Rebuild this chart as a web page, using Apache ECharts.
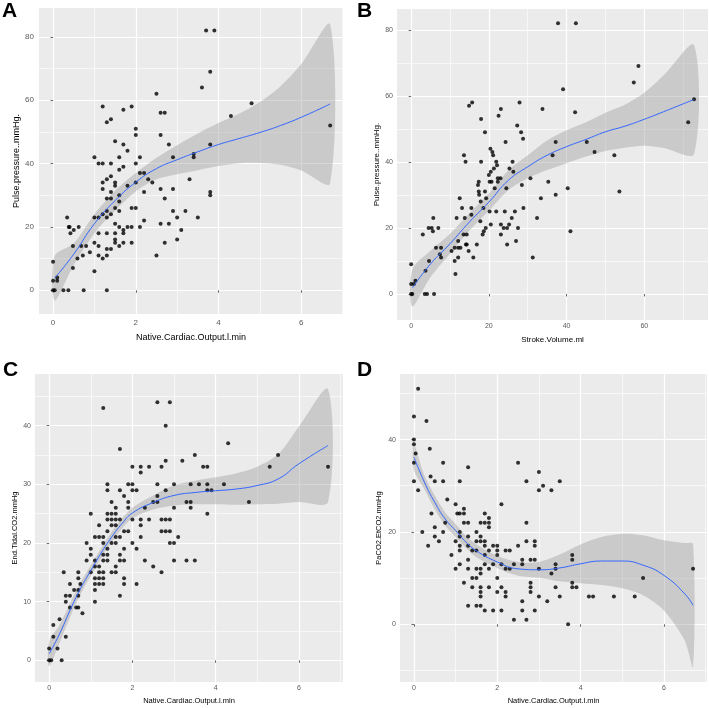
<!DOCTYPE html>
<html>
<head>
<meta charset="utf-8">
<script src="https://cdn.jsdelivr.net/npm/echarts@6/dist/echarts.min.js"></script>
<style>
  html, body { margin: 0; padding: 0; background: #fff; }
  #chart { width: 709px; height: 708px; }
</style>
</head>
<body>
<div id="chart"></div>
<script>
// ---- data ----
// A: pulse pressure vs native cardiac output
const ptsA = [[0,9],[0,3],[0,0],[0.04,0],[0.1,4],[0.1,3],[0.25,0],[0.37,0],[0.34,23],[0.38,20],[0.4,20],[0.42,18],[0.5,19],[0.62,20],[0.48,14],[0.48,7],[0.59,10],[0.68,14],[0.72,11],[0.74,0],[0.8,14],[0.89,12],[1,6],[1,23],[1,15],[1,42],[1.1,23],[1.1,18],[1.1,14],[1.1,11],[1.1,40],[1.2,40],[1.2,58],[1.2,34],[1.2,32],[1.2,24],[1.2,10],[1.3,35],[1.3,29],[1.3,25],[1.3,23],[1.3,18],[1.3,13],[1.3,11],[1.3,0],[1.3,53],[1.4,54],[1.4,40],[1.4,36],[1.4,31],[1.4,29],[1.4,24],[1.4,13],[1.5,47],[1.5,34],[1.5,33],[1.5,26],[1.5,21],[1.5,18],[1.5,16],[1.5,15],[1.6,30],[1.6,28],[1.6,25],[1.6,38],[1.6,42],[1.6,20],[1.6,14],[1.7,57],[1.7,46],[1.7,39],[1.7,19],[1.7,18],[1.7,15],[1.8,44],[1.8,33],[1.8,20],[1.9,58],[1.9,26],[1.9,20],[1.9,15],[2,51],[2,49],[2,40],[2,34],[2,26],[2.1,42],[2.1,37],[2.1,20],[2.2,37],[2.2,31],[2.2,22],[2.3,35],[2.4,34],[2.5,62],[2.5,11],[2.6,56],[2.6,49],[2.6,32],[2.6,21],[2.7,56],[2.7,29],[2.7,15],[2.8,46],[2.8,21],[2.9,42],[2.9,32],[2.9,25],[3,23],[3,16],[3.1,19],[3.2,25],[3.3,35],[3.4,43],[3.4,42],[3.5,23],[3.6,64],[3.7,82],[3.8,69],[3.8,46],[3.8,31],[3.8,30],[3.9,82],[4.3,55],[4.8,59],[6.7,52]];
const fitXA = [0.04,0.5,1,1.5,2,2.5,3,3.5,4,4.5,5,5.5,6,6.7];
const fitA  = [3.8,11.4,21,28.3,34.1,38.4,41.2,43.7,46,47.9,49.8,52,54.6,58.8];
const loA   = [-3.2,8,18,25.2,31.2,35,36.6,37.9,39.2,40.1,40.2,39.6,37.8,33.8];
const hiA   = [10.8,14.8,24,31.4,37,41.8,45.8,49.5,52.8,55.7,59.4,64.4,71.4,83.8];

// B: pulse pressure vs stroke volume
const ptsB = [[0,9],[0,3],[0,0],[0.3,0],[0.7,3],[1.1,4],[3,18],[3.7,7],[3.5,0],[4.1,0],[4.5,20],[4.6,10],[5.3,20],[5.6,19],[5.7,23],[5.9,0],[6.4,14],[7,20],[7.4,12],[7.7,14],[7.7,11],[10.4,13],[11.2,10],[11.2,14],[11.4,6],[11.7,23],[12.1,11],[12.1,16],[12.1,14],[12.7,14],[12.5,29],[13.1,26],[13.5,18],[13.6,42],[13.8,23],[14,40],[14.1,15],[14.3,18],[14.3,15],[14.8,13],[14.9,57],[15.7,58],[15.5,26],[15.5,24],[16,11],[16.9,15],[17.2,33],[17.4,34],[17.4,31],[17.5,30],[17.8,22],[17.9,28],[18,40],[18,53],[18.4,18],[18.6,26],[18.7,19],[19,49],[19,31],[19.2,20],[19.3,29],[20,36],[20.2,34],[20.2,25],[20.4,44],[20.5,37],[20.5,21],[20.7,34],[20.9,43],[21.1,42],[21.3,38],[21.5,32],[21.9,40],[21.9,25],[22.1,39],[22.3,35],[22.3,34],[22.5,54],[23,35],[23.1,56],[23.1,18],[23.1,21],[23.8,20],[24.1,25],[24.3,46],[24.5,32],[24.7,20],[24.7,15],[25.2,21],[25.3,38],[25.9,23],[26.1,40],[26.3,37],[26.7,25],[27,16],[27.3,51],[27.5,20],[27.9,58],[28.3,49],[28.5,33],[28.8,47],[28.9,26],[30.7,35],[31.3,11],[32.4,23],[33.4,29],[33.8,56],[35.3,34],[36.4,42],[37.2,46],[37.2,30],[37.8,82],[39.1,62],[40.3,32],[41,19],[42.2,55],[42.4,82],[45.2,46],[47.2,43],[52.3,42],[53.6,31],[57.3,64],[58.5,69],[71.3,52],[72.8,59]];
const fitXB = [0.3,5,10,15,20,25,30,35,40,45,50,55,60,65,72.8];
const fitB  = [1.8,9.1,15.2,21.8,27.8,34.4,38.5,42,44.6,46.8,49.1,50.8,52.9,55.2,58.9];
const loB   = [-3.8,5.1,12.2,19.2,25.2,31.4,35,37.5,39.6,41.6,43.3,44.3,44.9,44.2,42.4];
const hiB   = [7.4,13.1,18.2,24.4,30.4,37.4,42,46.5,49.6,52,54.9,57.3,60.9,66.2,75.4];

// C: end tidal CO2 vs native cardiac output
const ptsC = [[0,2],[0,0],[0.05,0],[0.1,6],[0.1,4],[0.2,2],[0.25,7],[0.3,0],[0.35,15],[0.4,10],[0.4,11],[0.4,4],[0.5,13],[0.5,11],[0.5,9],[0.6,12],[0.65,9],[0.7,15],[0.7,14],[0.7,12],[0.7,11],[0.7,9],[0.75,13],[0.8,8],[0.9,20],[0.9,17],[1,25],[1,19],[1,18],[1,15],[1.1,21],[1.1,17],[1.1,16],[1.1,14],[1.1,13],[1.1,12],[1.1,10],[1.2,23],[1.2,21],[1.2,16],[1.2,15],[1.2,14],[1.2,13],[1.3,43],[1.3,21],[1.3,20],[1.3,18],[1.3,17],[1.3,15],[1.3,14],[1.3,13],[1.4,30],[1.4,29],[1.4,25],[1.4,24],[1.4,22],[1.4,19],[1.4,18],[1.4,17],[1.5,27],[1.5,25],[1.5,24],[1.5,23],[1.5,20],[1.5,15],[1.6,26],[1.6,25],[1.6,24],[1.6,23],[1.6,21],[1.6,20],[1.6,16],[1.6,15],[1.7,36],[1.7,29],[1.7,24],[1.7,21],[1.7,18],[1.7,17],[1.7,11],[1.8,28],[1.8,22],[1.8,19],[1.8,17],[1.8,14],[1.8,13],[1.9,30],[1.9,27],[1.9,26],[1.9,22],[2,33],[2,30],[2,29],[2,24],[2,20],[2.1,29],[2.1,19],[2.1,13],[2.2,33],[2.2,32],[2.2,24],[2.2,23],[2.2,21],[2.3,26],[2.3,17],[2.4,33],[2.4,24],[2.5,27],[2.5,16],[2.6,44],[2.6,30],[2.6,28],[2.6,27],[2.7,33],[2.7,24],[2.7,22],[2.7,15],[2.8,40],[2.8,34],[2.8,29],[2.8,24],[2.8,22],[2.9,44],[2.9,24],[2.9,22],[2.9,20],[3,30],[3,26],[3,20],[3,17],[3.1,21],[3.2,34],[3.3,27],[3.3,17],[3.4,30],[3.4,27],[3.4,26],[3.5,35],[3.5,17],[3.6,30],[3.7,33],[3.8,33],[3.8,30],[3.8,29],[3.8,25],[3.9,29],[4.2,30],[4.3,37],[4.8,27],[5.3,33],[5.5,35],[6.7,33]];
const fitXC = [0,0.25,0.5,0.75,1,1.25,1.5,1.75,2,2.5,3,3.5,4,4.5,5,5.5,6,6.7];
const fitC  = [1.1,4.5,8.5,12.2,15.3,18.3,21,23.3,25.1,26.9,28.1,28.6,28.9,29.2,29.8,30.9,33.5,36.6];
const loC   = [-1.0,3.0,7.3,11.2,14.4,17.45,20.15,22.45,24.2,25.7,26.4,26.6,26.6,26.5,26.6,26.7,27.0,27.0];
const hiC   = [3.2,6.0,9.7,13.2,16.2,19.15,21.85,24.15,26.0,28.1,29.8,30.6,31.2,31.9,33.0,35.1,39.8,46.2];

// D: PaCO2-EtCO2 gap vs native cardiac output
const ptsD = [[0,45],[0,40],[0,39],[0,35],[0,31],[0.04,37],[0.1,51],[0.1,29],[0.2,20],[0.3,44],[0.34,17],[0.38,38],[0.4,32],[0.42,24],[0.5,21],[0.5,19],[0.5,31],[0.6,18],[0.7,35],[0.7,31],[0.7,20],[0.75,22],[0.8,27],[0.9,15],[1,26],[1,18],[1,12],[1.04,24],[1.1,31],[1.1,24],[1.1,20],[1.1,19],[1.1,17],[1.1,16],[1.1,13],[1.2,25],[1.2,24],[1.2,22],[1.2,9],[1.3,34],[1.3,22],[1.3,19],[1.3,17],[1.3,14],[1.3,12],[1.3,4],[1.4,16],[1.4,10],[1.4,8],[1.5,20],[1.5,18],[1.5,16],[1.5,12],[1.5,10],[1.5,4],[1.6,22],[1.6,19],[1.6,18],[1.6,12],[1.6,11],[1.6,8],[1.6,7],[1.6,6],[1.6,4],[1.7,24],[1.7,22],[1.7,18],[1.7,17],[1.7,15],[1.7,13],[1.7,3],[1.8,23],[1.8,22],[1.8,21],[1.8,16],[1.8,12],[1.8,8],[1.9,17],[1.9,13],[1.9,3],[2,17],[2,16],[2,15],[2,10],[2,7],[2.1,26],[2.1,13],[2.1,8],[2.1,3],[2.2,16],[2.2,12],[2.2,7],[2.2,6],[2.3,16],[2.3,12],[2.4,13],[2.4,1],[2.5,17],[2.5,35],[2.6,14],[2.6,13],[2.6,5],[2.6,3],[2.7,31],[2.7,22],[2.7,18],[2.7,1],[2.8,14],[2.8,9],[2.8,8],[2.8,7],[2.9,18],[2.9,17],[2.9,14],[2.9,3],[3,33],[3,29],[3,12],[3,6],[3.1,30],[3.2,5],[3.3,29],[3.3,11],[3.4,13],[3.4,12],[3.4,8],[3.5,31],[3.5,6],[3.7,0],[3.8,15],[3.8,14],[3.8,9],[3.8,8],[3.9,8],[4.2,6],[4.3,6],[4.8,6],[5.3,6],[5.5,10],[6.7,12]];
const fitXD = [0,0.25,0.5,0.75,1,1.25,1.5,2,2.5,3,3.5,4,4.5,5,5.5,6,6.5,6.7];
const fitD  = [36.2,30.8,26.4,22.8,20.3,17.8,15.9,13.5,12,11.8,12.2,13.1,13.7,13.7,12.8,10.6,6.6,4.1];
const loD   = [33.4,29.3,24.9,21.4,18.9,16.5,14.5,12.2,10.5,10.1,9.3,8.9,8.5,7.8,6.3,3.0,-3.5,-9.2];
const hiD   = [39.0,32.3,27.9,24.2,21.7,19.1,17.3,14.8,13.5,13.5,15.1,17.3,18.9,19.6,19.3,18.2,17.6,17.4];

// tick positions (major = labelled, minor = thin grid only)
const coTicks = [0, 2, 4, 6];
const coMinor = [1, 3, 5, 7];
const svTicks = [0, 20, 40, 60];
const svMinor = [10, 30, 50, 70];
const ppTicks = [0, 20, 40, 60, 80];
const ppMinor = [10, 30, 50, 70];
const etTicks = [0, 10, 20, 30, 40];
const etMinor = [5, 15, 25, 35, 45];
const gapTicks = [0, 20, 40];
const gapMinor = [-10, 10, 30, 50];

const FONT = 'Liberation Sans, Arial, Helvetica, sans-serif';

const panels = [
  { letter: 'A', pts: ptsA, fitX: fitXA, fit: fitA, lo: loA, hi: hiA,
    xName: 'Native.Cardiac.Output.l.min', yName: 'Pulse.pressure..mmHg.',
    xMajor: coTicks, xMinor: coMinor, yMajor: ppTicks, yMinor: ppMinor,
    xMin: -0.34, xMax: 7.01, yMin: -7.5, yMax: 89.1,
    grid: { left: 39, top: 8, width: 304, height: 306 },
    letterPos: { left: 2, top: 1 }, labelSize: 8, nameSize: 9, xGap: 19, yGap: 18, xMargin: 5, yMargin: 5 },
  { letter: 'B', pts: ptsB, fitX: fitXB, fit: fitB, lo: loB, hi: hiB,
    xName: 'Stroke.Volume.ml', yName: 'Pulse.pressure..mmHg.',
    xMajor: svTicks, xMinor: svMinor, yMajor: ppTicks, yMinor: ppMinor,
    xMin: -3.64, xMax: 76.4, yMin: -7.9, yMax: 86.3,
    grid: { left: 397, top: 9, width: 311, height: 311 },
    letterPos: { left: 357, top: 1 }, labelSize: 7, nameSize: 8, xGap: 16, yGap: 16, xMargin: 3, yMargin: 4 },
  { letter: 'C', pts: ptsC, fitX: fitXC, fit: fitC, lo: loC, hi: hiC,
    xName: 'Native.Cardiac.Output.l.min', yName: 'End.Tidal.CO2.mmHg',
    xMajor: coTicks, xMinor: coMinor, yMajor: etTicks, yMinor: etMinor,
    xMin: -0.34, xMax: 7.06, yMin: -3.7, yMax: 48.8,
    grid: { left: 35, top: 374, width: 308, height: 308 },
    letterPos: { left: 3, top: 360 }, labelSize: 7, nameSize: 7.5, xGap: 15, yGap: 15, xMargin: 3, yMargin: 4 },
  { letter: 'D', pts: ptsD, fitX: fitXD, fit: fitD, lo: loD, hi: hiD,
    xName: 'Native.Cardiac.Output.l.min', yName: 'PaCO2.EtCO2.mmHg',
    xMajor: coTicks, xMinor: coMinor, yMajor: gapTicks, yMinor: gapMinor,
    xMin: -0.335, xMax: 7.035, yMin: -12.5, yMax: 54.2,
    grid: { left: 400, top: 374, width: 307, height: 308 },
    letterPos: { left: 357, top: 360 }, labelSize: 7, nameSize: 7.5, xGap: 15, yGap: 17, xMargin: 3, yMargin: 4 }
];

const option = {
  backgroundColor: '#ffffff',
  animation: false,
  title: [], grid: [], xAxis: [], yAxis: [], series: []
};

function majorAxis(p, i, dir) {
  const isX = dir === 'x';
  const ticks = isX ? p.xMajor : p.yMajor;
  return {
    type: 'value', gridIndex: i, position: isX ? 'bottom' : 'left',
    min: isX ? p.xMin : p.yMin, max: isX ? p.xMax : p.yMax,
    name: isX ? p.xName : p.yName,
    nameLocation: 'middle', nameGap: isX ? p.xGap : p.yGap,
    nameTextStyle: { fontFamily: FONT, fontSize: p.nameSize, color: '#000' },
    axisLine: { show: false },
    axisTick: { show: true, length: 2.5, lineStyle: { color: '#444', width: 0.8 }, customValues: ticks },
    axisLabel: { customValues: ticks, fontFamily: FONT, fontSize: p.labelSize, color: '#5a5a5a',
                 margin: isX ? p.xMargin : p.yMargin },
    splitLine: { show: true, lineStyle: { color: '#ffffff', width: 1.2 } }
  };
}

function minorAxis(p, i, dir) {
  const isX = dir === 'x';
  return {
    type: 'value', gridIndex: i, position: isX ? 'top' : 'right',
    min: isX ? p.xMin : p.yMin, max: isX ? p.xMax : p.yMax,
    axisLine: { show: false },
    axisTick: { show: false, customValues: isX ? p.xMinor : p.yMinor },
    axisLabel: { show: false },
    splitLine: { show: true, lineStyle: { color: '#ffffff', width: 0.6 } }
  };
}

panels.forEach(function (p, i) {
  option.title.push({
    text: p.letter, left: p.letterPos.left, top: p.letterPos.top, padding: 0,
    textStyle: { fontFamily: FONT, fontSize: 21, fontWeight: 'bold', color: '#000' }
  });
  option.grid.push(Object.assign({ show: true, backgroundColor: '#EBEBEB', borderWidth: 0 }, p.grid));
  option.xAxis.push(minorAxis(p, i, 'x'), majorAxis(p, i, 'x'));
  option.yAxis.push(minorAxis(p, i, 'y'), majorAxis(p, i, 'y'));
  const xi = 2 * i + 1, yi = 2 * i + 1;

  option.series.push({
    type: 'scatter', xAxisIndex: xi, yAxisIndex: yi,
    data: p.pts, symbolSize: 4, itemStyle: { color: '#000' }, silent: true
  });
  // confidence ribbon: one polygon through upper edge then lower edge, placed by the axes
  const n = p.fitX.length;
  option.series.push({
    type: 'custom', xAxisIndex: xi, yAxisIndex: yi, silent: true, clip: true,
    data: p.fitX.map(function (x, k) { return [x, p.lo[k], p.hi[k]]; }),
    encode: { x: 0, y: [1, 2] },
    renderItem: function (params, api) {
      if (params.dataIndex !== 0) return;
      const pts = [];
      for (let k = 0; k < n; k++) pts.push(api.coord([api.value(0, k), api.value(2, k)]));
      for (let k = n - 1; k >= 0; k--) pts.push(api.coord([api.value(0, k), api.value(1, k)]));
      return {
        type: 'polygon',
        shape: { points: pts, smooth: 0.3 },
        style: { fill: 'rgba(153,153,153,0.4)' }
      };
    }
  });
  option.series.push({
    type: 'line', xAxisIndex: xi, yAxisIndex: yi,
    data: p.fitX.map(function (x, k) { return [x, p.fit[k]]; }),
    symbol: 'none', smooth: true, lineStyle: { color: '#3366FF', width: 1 }, silent: true
  });
});

const chart = echarts.init(document.getElementById('chart'));
chart.setOption(option);
</script>
</body>
</html>
